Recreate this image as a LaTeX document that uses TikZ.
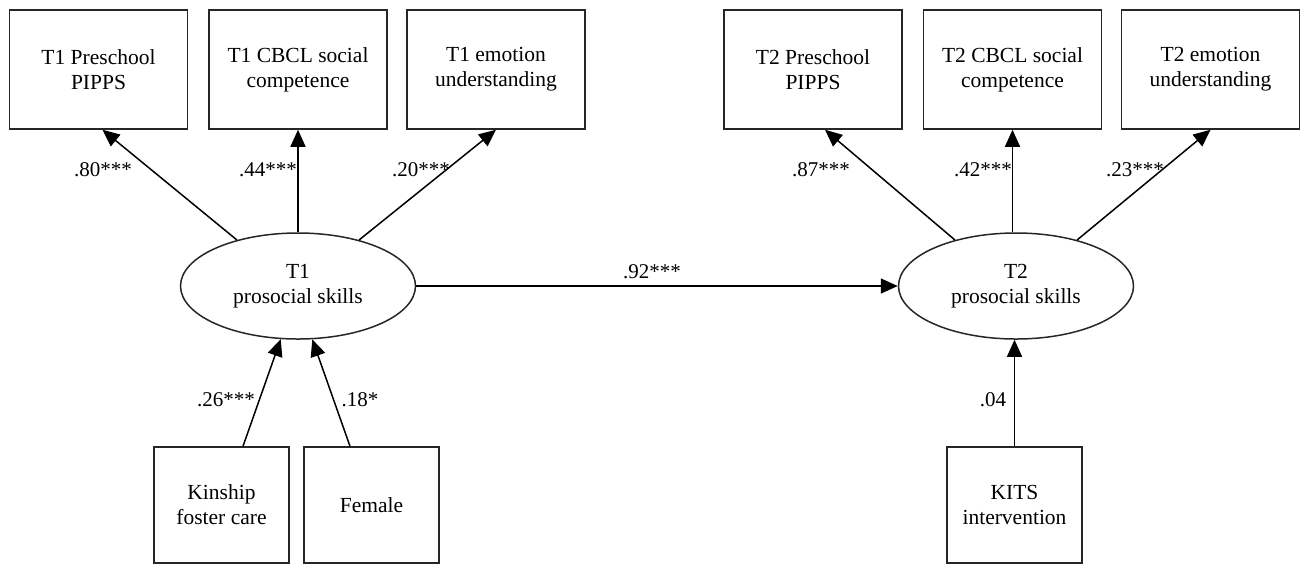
\documentclass[tikz,border=0pt]{standalone}
\usepackage{fontspec}
\setmainfont{Liberation Serif}
\usetikzlibrary{arrows.meta,shapes.geometric}
\begin{document}
\begin{tikzpicture}[x=1pt,y=-1pt,
  box/.style={draw=black!85, line width=1.5pt, align=center, inner sep=0pt,
    font=\fontsize{21.5}{25}\selectfont},
  topbox/.style={box, minimum width=178pt, minimum height=119pt},
  lowbox/.style={box, minimum width=135pt, minimum height=116pt},
  lat/.style={draw=black!85, ellipse, line width=1.5pt, align=center, inner sep=0pt,
    minimum width=235pt, minimum height=106pt, font=\fontsize{21.5}{25}\selectfont},
  arr/.style={line width=1.5pt, -{Triangle[length=17pt,width=15pt]}},
  lab/.style={inner sep=0pt, font=\fontsize{21}{25}\selectfont}]
\useasboundingbox (0,0) rectangle (1308,566);

% top indicator boxes
\node[topbox] (a1) at (98.5,69.5) {T1 Preschool\\PIPPS};
\node[topbox] (a2) at (298,69.5) {T1 CBCL social\\competence};
\node[topbox] (a3) at (496,69.5) {T1 emotion\\understanding};
\node[topbox] (b1) at (813,69.5) {T2 Preschool\\PIPPS};
\node[topbox] (b2) at (1012.5,69.5) {T2 CBCL social\\competence};
\node[topbox] (b3) at (1210.5,69.5) {T2 emotion\\understanding};

% latent variables
\node[lat] (e1) at (298,286) {T1\\prosocial skills};
\node[lat] (e2) at (1016,286) {T2\\prosocial skills};

% bottom covariate boxes
\node[lowbox] (k) at (221.5,505) {Kinship\\foster care};
\node[lowbox] (f) at (371.5,505) {Female};
\node[lowbox] (ki) at (1014.5,505) {KITS\\intervention};

% loadings
\draw[arr] (e1.143) -- ([xshift=4pt]a1.south);
\draw[arr] (e1.north) -- (a2.south);
\draw[arr] (e1.37) -- (a3.south);
\draw[arr] (e2.143) -- ([xshift=12pt]b1.south);
\draw[arr] (b2.south |- e2.north) -- (b2.south);
\draw[arr] (e2.37) -- (b3.south);

% structural paths
\draw[arr] (e1.east) -- (e2.west);
\draw[arr] ([xshift=21.5pt]k.north) -- (e1.252);
\draw[arr] ([xshift=-21.5pt]f.north) -- (e1.285);
\draw[arr] (ki.north) -- (ki.north |- e2.south);

% labels
\node[lab] (l1) at (103,170) {.80***};
\node[lab] (l2) at (268,170) {.44***};
\node[lab] (l3) at (421,170) {.20***};
\node[lab] (l4) at (821,170) {.87***};
\node[lab] (l5) at (983,170) {.42***};
\node[lab] (l6) at (1135,170) {.23***};
\node[lab] (l7) at (652,272) {.92***};
\node[lab] (l8) at (226,400) {.26***};
\node[lab] (l9) at (360,400) {.18*};
\node[lab] (l10) at (993,400) {.04};
\end{tikzpicture}
\end{document}
